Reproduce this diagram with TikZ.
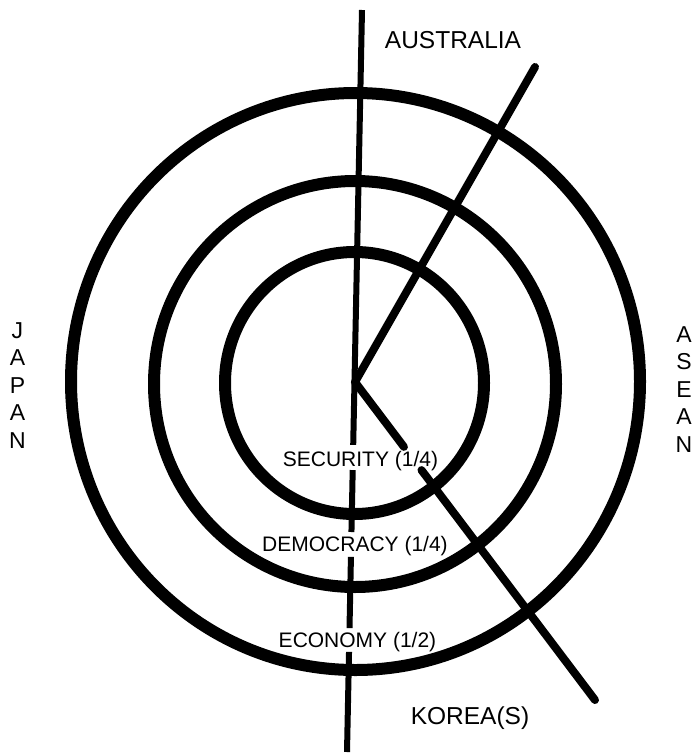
\documentclass[tikz,border=0pt]{standalone}
\usepackage{fontspec}
\setmainfont{Liberation Sans}
\usetikzlibrary{calc}
\begin{document}
\begin{tikzpicture}[x=1pt,y=-1pt,
  ring/.style={line width=12pt},
  axisline/.style={line width=6pt},
  spoke/.style={line width=8pt, line cap=round, line join=round},
  lbl/.style={inner sep=0pt, anchor=base, font=\fontsize{21}{25}\selectfont},
  big/.style={inner sep=0pt, anchor=base, font=\fontsize{24.5}{29}\selectfont},
  side/.style={inner sep=0pt, anchor=base, font=\fontsize{23}{27}\selectfont}]
\useasboundingbox (0,0) rectangle (693,755);
% rings
\draw[ring] (354.5,383) ellipse [x radius=129.5pt, y radius=131pt];
\draw[ring] (355,384) ellipse [x radius=201pt, y radius=203pt];
\draw[ring] (355.5,381.5) ellipse [x radius=284.5pt, y radius=288.5pt];
% key points
\coordinate (Vtop) at (362,10);
\coordinate (Vbot) at (347,752);
\coordinate (V) at (355,382);
\coordinate (NE) at (535,67);
\coordinate (SE) at (595,700);
\coordinate (g1a) at ($(Vtop)!0.586!(Vbot)$);
\coordinate (g1b) at ($(Vtop)!0.620!(Vbot)$);
\coordinate (g2a) at ($(Vtop)!0.7035!(Vbot)$);
\coordinate (g2b) at ($(Vtop)!0.737!(Vbot)$);
\coordinate (g3a) at ($(Vtop)!0.833!(Vbot)$);
\coordinate (g3b) at ($(Vtop)!0.865!(Vbot)$);
\coordinate (d1a) at ($(V)!0.204!(SE)$);
\coordinate (d1b) at ($(V)!0.277!(SE)$);
% vertical axis with gaps for labels
\draw[axisline] (Vtop) -- (g1a);
\draw[axisline] (g1b) -- (g2a);
\draw[axisline] (g2b) -- (g3a);
\draw[axisline] (g3b) -- (Vbot);
% spokes
\draw[spoke] (NE) -- (V) -- (d1a);
\draw[spoke] (d1b) -- (SE);
% labels
\node[lbl] (sec) at (360.5,466) {SECURITY (1/4)};
\node[lbl] (dem) at (355,551) {DEMOCRACY (1/4)};
\node[lbl] (eco) at (357.5,647) {ECONOMY (1/2)};
\node[big] (aus) at (453,48) {AUSTRALIA};
\node[big] (kor) at (470,724) {KOREA(S)};
\foreach \l [count=\i] in {J,A,P,A,N}
  \node[side] (jap\i) at (17.5,{338+27.5*(\i-1)}) {\l};
\foreach \l [count=\i] in {A,S,E,A,N}
  \node[side] (ase\i) at (684,{342+27.5*(\i-1)}) {\l};
\end{tikzpicture}
\end{document}
